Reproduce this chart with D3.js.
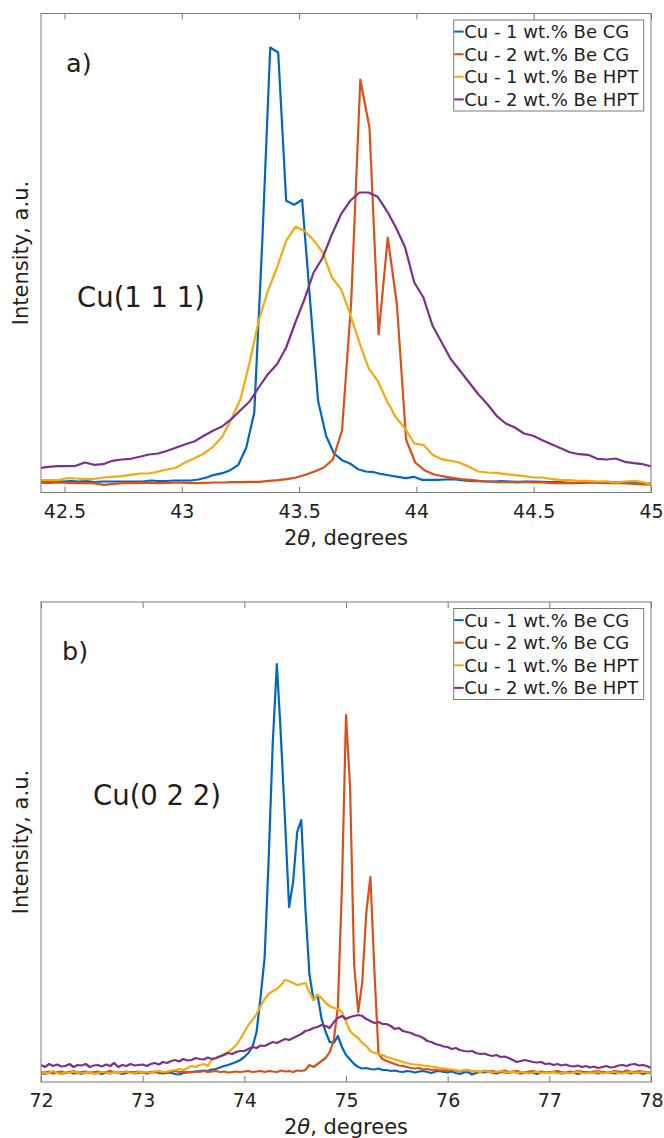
<!DOCTYPE html>
<html>
<head>
<meta charset="utf-8">
<script src="https://cdn.jsdelivr.net/npm/d3@7"></script>
<style>
  body { margin: 0; background: #fff; }
  svg { display: block; font-family: "DejaVu Sans", sans-serif; }
</style>
</head>
<body>
<div id="chart"></div>
<script>
// XRD patterns, Cu(111) and Cu(022) reflections

const seriesNames = ['Cu - 1 wt.% Be CG', 'Cu - 2 wt.% Be CG', 'Cu - 1 wt.% Be HPT', 'Cu - 2 wt.% Be HPT'];
const seriesColors = ['#0066BF', '#D9501A', '#F4A90F', '#7E2F8E'];

// panel a) - scan start and step (degrees) of each pattern
const aStart = [42.391, 42.396, 42.392, 42.392];
const aStep = [0.034, 0.039, 0.039, 0.039];
const aTicks = [42.5, 43, 43.5, 44, 44.5, 45];

const aCG1 = [11, 11.5, 11, 11, 11.5, 11, 11.5, 10.5, 11, 11, 11, 11, 11, 11, 12, 11.5, 11.5, 12, 12, 12,
  13, 15, 17.7, 19.3, 22.3, 27.7, 45, 80, 250, 445,
  440, 291.7, 287.7, 292.7, 191.7, 91.7, 56.7, 39, 32.3, 29,
  23.3, 21, 20.3, 18.3, 17, 15.7, 14.3, 15.7, 12.7, 12.7,
  12.7, 13, 13.3, 12.3, 11.7, 11.3, 11, 11, 11.3, 11,
  10.7, 11, 11, 10.7, 10.3, 10.7, 10, 9.3, 9.7, 10,
  10.3, 10.7, 10.3, 10, 10.7, 9.7, 9, 9];
const aCG2 = [9.7, 9.7, 10, 9.7, 9.3, 9.7, 9, 7.7, 8.7, 9.3, 9.3, 9.7, 9.7, 9.3, 9.7, 10, 9.7, 9.3, 9.7, 10,
  10, 10.3, 10.3, 10.7, 10.7, 11.7, 12.3, 13.3, 15, 17.7,
  21, 25, 33, 62, 190, 413, 365, 158, 255, 188,
  53, 30, 22.3, 18.3, 16.3, 14.7, 13.3, 12.7, 11.7, 11,
  10.3, 10.7, 10, 10.7, 10, 10, 9.3, 9.7, 9.3, 10,
  10, 9.7, 9.3, 9.7, 9, 8.7, 8, 7.7];
const aHPT1 = [12.3, 12.3, 12.3, 14.3, 14, 13.3, 13.7, 15, 15.7, 16.3,
  17.7, 19, 19, 21, 23, 25, 30.3, 34.3, 39, 45.7,
  55.7, 73.3, 93.3, 130, 171.7, 201.7, 225, 251.7, 265.7, 261.7,
  252.3, 240, 215, 203.3, 178, 150, 124.3, 111.7, 91.7, 75,
  64, 49, 47.7, 37.7, 33.3, 31.7, 29.7, 25.7, 21, 20,
  19.7, 18.3, 17.3, 16.3, 15, 15, 13.7, 12.7, 12.3, 11.7,
  11.7, 11, 11, 10, 11, 11.7, 10.3, 7.7];
const aHPT2 = [24.3, 25.7, 26.3, 26.3, 26.7, 30, 27.7, 28.3, 31.7, 33,
  33.7, 35.7, 38, 39, 41.7, 45, 48.3, 51.3, 56.7, 61.7,
  66, 73.3, 82.3, 91, 105, 118.3, 128.3, 145, 170, 193.3,
  220, 235, 258.3, 278.3, 291.7, 300, 300, 295.7, 281.7, 265,
  245, 210, 195, 166.7, 150, 133.3, 121.7, 110, 98.3, 88.3,
  76.7, 69, 65, 59, 56.7, 52.3, 48.3, 44.3, 40.3, 38.3,
  37.7, 33.7, 33, 34, 30.7, 29.3, 28.3, 25.7];

// panel b) - all four patterns share one scan grid
const bStart = [72, 72, 72, 72];
const bStep = [0.04, 0.04, 0.04, 0.04];
const bTicks = [72, 73, 74, 75, 76, 77, 78];

const bCG1 = [9, 8, 10, 8.5, 9.5, 8, 9, 10, 8.5, 9, 8, 9.5, 10, 8.5, 9, 8, 9.5, 8.5, 10, 9, 8, 9, 10, 8.5, 9,
  9.5, 8.5, 9, 10, 9, 8.5, 9.5, 9, 8, 7.5, 9, 9.5, 10, 10.5, 11, 11.5, 11, 12.5, 13, 14.5, 16, 17, 18.5, 20, 22,
  25, 29, 35, 50, 85, 125, 225, 340, 418, 345, 262, 175, 200, 250, 262, 175, 108, 82, 87, 63, 50, 40, 39, 46, 35,
  27, 22.5, 18, 15, 13.5, 14, 13, 12.5, 13.5, 12, 12, 11, 11.5, 10.5, 10, 11, 10.5, 9.5, 10.5, 11, 10, 9, 10.5, 11, 10,
  9.5, 10.5, 9, 8, 9.5, 10, 7.5, 9, 10, 9.5, 10.5, 9, 8.5, 10, 9.5, 9, 10.5, 9, 8.5, 9.5, 10, 9, 8, 9.5, 10,
  9, 10, 9.5, 8.5, 9, 10, 9.5, 8, 9, 10, 9.5, 9, 8.5, 10, 9, 9.5, 8.5, 9, 10, 9.5, 8.5, 9, 9.5, 8, 9, 9.5];
const bCG2 = [10, 9.5, 10.5, 9, 10, 10.5, 9.5, 10, 11, 9.5, 10, 10.5, 9, 10, 10.5, 9.5, 10, 11, 10, 9.5, 10, 10.5, 9.5, 10, 10.5,
  10, 9.5, 10, 10.5, 10, 9.5, 10, 10.5, 11, 10, 10.5, 10, 9.5, 10.5, 10, 11, 10, 10.5, 11, 10, 10.5, 9.5, 10, 10.5, 10,
  10.5, 11, 10, 10.5, 11, 10, 11, 10.5, 10, 11.5, 10.5, 11, 10, 11.5, 11, 12, 17, 15, 18, 21, 24, 30, 42, 75, 195,
  367, 295, 117, 70, 100, 170, 205, 110, 28, 23, 21, 19.5, 18, 16.5, 16, 15, 14, 13.5, 14, 12.5, 13, 12, 12.5, 11.5, 12,
  11, 12, 11.5, 10.5, 11, 12, 10.5, 11, 10, 11.5, 10.5, 11, 10, 10.5, 11.5, 10, 10.5, 11, 10, 9.5, 10.5, 11, 10, 10.5, 9.5,
  10, 10.5, 11, 10, 9.5, 10.5, 10, 11, 10.5, 9.5, 10, 10.5, 11, 10, 9.5, 10, 11, 10.5, 10, 11.5, 10.5, 10, 11, 10.5, 10, 9.5];
const bHPT1 = [10, 8.5, 9.5, 11, 9, 8, 10, 9, 10.5, 9, 8.5, 9.5, 10, 8, 9, 10, 9.5, 8.5, 10, 9, 9.5, 10.5, 9, 8.5, 10,
  9.5, 10, 9, 10.5, 11, 10, 10.5, 11.5, 12, 13, 12, 14, 16, 15, 17, 18, 16, 22, 24, 26, 28, 30, 33, 37, 43,
  50, 57, 62, 68, 76, 83, 88, 91, 93, 97, 102, 101, 99, 97, 98, 99, 90, 82, 87, 84, 79, 76, 74, 73, 70,
  60, 51, 47, 44, 39, 36, 31, 29, 28, 27, 25, 24, 22.5, 21.5, 20, 19, 18, 17.5, 17, 16.5, 16, 15.5, 15, 14, 13.5,
  13, 12.5, 12, 11, 12, 11.5, 10.5, 11, 10, 11, 10.5, 9.5, 10, 11, 10, 9.5, 10.5, 9, 10, 9.5, 8.5, 9.5, 10, 9, 9.5,
  9, 10, 8.5, 9, 9.5, 8.5, 9.5, 10, 9, 8.5, 9.5, 9, 10, 8.5, 9, 9.5, 10, 9, 8.5, 9.5, 10, 9, 9.5, 10, 9.5, 10];
const bHPT2 = [17, 15, 18, 16, 17.5, 15.5, 16, 18, 15, 17, 16.5, 18, 15, 16.5, 17, 15.5, 17.5, 16, 19, 15, 17, 16, 18, 16.5, 17,
  17.5, 16, 18, 19, 17.5, 20, 19, 21, 22, 20.5, 23, 21.5, 22, 24, 23, 22.5, 24.5, 23, 24, 25.5, 27, 29, 28, 30, 31,
  31, 33, 35, 34, 36.5, 36, 38, 40, 39, 41, 43, 42, 44, 46, 48, 51, 52, 54, 55, 57, 56, 54, 60, 64, 66,
  63, 65, 66, 67, 66, 63, 61, 59, 60, 58, 58, 56, 53, 54, 51, 50, 49, 47, 46, 44, 41, 40, 38, 37, 35.5,
  35, 33, 34, 32, 31, 30.5, 31, 29, 28, 28.5, 27, 26, 27, 25, 25.5, 24, 22, 20, 21, 22, 21, 20, 19.5, 20, 18,
  18.5, 17, 18, 16.5, 17.5, 16, 15.5, 16.5, 15, 16, 14.5, 15.5, 14, 15, 16, 14.5, 15, 16.5, 17, 16, 17.5, 18, 16.5, 17, 16, 14];

const W = 664, H = 1138;
const left = 41, right = 651;
const textColor = '#1e1e1e';
const frameColor = '#7a7a7a';

const panels = [
  { id: 'a', tag: 'a)', peak: 'Cu(1 1 1)', top: 13.5, bottom: 492.5, yMax: 479,
    xDomain: [42.4, 45], ticks: aTicks, start: aStart, step: aStep,
    series: [aCG1, aCG2, aHPT1, aHPT2],
    tagPos: [66, 72], peakPos: [77, 307] },
  { id: 'b', tag: 'b)', peak: 'Cu(0 2 2)', top: 602, bottom: 1082, yMax: 480,
    xDomain: [72, 78], ticks: bTicks, start: bStart, step: bStep,
    series: [bCG1, bCG2, bHPT1, bHPT2],
    tagPos: [62, 660], peakPos: [93, 805] }
];

const svg = d3.select('#chart').append('svg')
  .attr('width', W)
  .attr('height', H);

panels.forEach(p => {
  const x = d3.scaleLinear().domain(p.xDomain).range([left, right]);
  const y = d3.scaleLinear().domain([0, p.yMax]).range([p.bottom, p.top]);
  const g = svg.append('g').attr('class', 'panel-' + p.id);

  g.append('clipPath').attr('id', 'clip-' + p.id)
    .append('rect')
    .attr('x', left).attr('y', p.top)
    .attr('width', right - left).attr('height', p.bottom - p.top);

  const line = d3.line()
    .x(d => x(d[0]))
    .y(d => y(d[1]));

  // patterns, drawn in legend order so the last one sits on top
  const plot = g.append('g').attr('clip-path', `url(#clip-${p.id})`);
  p.series.forEach((vals, i) => {
    const pts = vals.map((v, k) => [p.start[i] + k * p.step[i], v]);
    plot.append('path')
      .datum(pts)
      .attr('d', line)
      .attr('fill', 'none')
      .attr('stroke', seriesColors[i])
      .attr('stroke-width', 2.2)
      .attr('stroke-linejoin', 'round');
  });

  // box
  g.append('rect')
    .attr('x', left).attr('y', p.top)
    .attr('width', right - left).attr('height', p.bottom - p.top)
    .attr('fill', 'none')
    .attr('stroke', frameColor)
    .attr('stroke-width', 1);

  // bottom axis, ticks inward
  const bottomAxis = g.append('g')
    .attr('transform', `translate(0,${p.bottom})`)
    .call(d3.axisBottom(x).tickValues(p.ticks).tickSize(-6).tickPadding(12).tickFormat(d => String(d)));
  bottomAxis.select('.domain').remove();
  bottomAxis.selectAll('line').attr('stroke', frameColor);
  bottomAxis.selectAll('text')
    .attr('fill', textColor)
    .attr('font-family', '"DejaVu Sans", sans-serif')
    .attr('font-size', 19);
  bottomAxis.attr('font-family', null).attr('font-size', null);

  // top ticks, no labels
  const topAxis = g.append('g')
    .attr('transform', `translate(0,${p.top})`)
    .call(d3.axisTop(x).tickValues(p.ticks).tickSize(-6).tickFormat(''));
  topAxis.select('.domain').remove();
  topAxis.selectAll('line').attr('stroke', frameColor);

  // axis titles
  const xl = g.append('text')
    .attr('x', (left + right) / 2)
    .attr('y', p.bottom + 52)
    .attr('text-anchor', 'middle')
    .attr('font-size', 21)
    .attr('fill', textColor);
  xl.append('tspan').text('2');
  xl.append('tspan').attr('font-style', 'italic').text('θ');
  xl.append('tspan').text(', degrees');

  g.append('text')
    .attr('transform', `translate(28,${(p.top + p.bottom) / 2}) rotate(-90)`)
    .attr('text-anchor', 'middle')
    .attr('font-size', 21)
    .attr('fill', textColor)
    .text('Intensity, a.u.');

  // panel tag and reflection label
  g.append('text')
    .attr('x', p.tagPos[0]).attr('y', p.tagPos[1])
    .attr('font-size', 25.5)
    .attr('fill', textColor)
    .text(p.tag);
  g.append('text')
    .attr('x', p.peakPos[0]).attr('y', p.peakPos[1])
    .attr('font-size', 27.5)
    .attr('fill', textColor)
    .text(p.peak);

  // legend
  const lg = g.append('g').attr('transform', `translate(453.7,${p.top + 6.5})`);
  lg.append('rect')
    .attr('width', 190).attr('height', 91)
    .attr('fill', '#fff')
    .attr('stroke', frameColor)
    .attr('stroke-width', 1);
  seriesNames.forEach((name, i) => {
    const cy = 11.6 + i * 22.6;
    lg.append('line')
      .attr('x1', 0.5).attr('x2', 10)
      .attr('y1', cy).attr('y2', cy)
      .attr('stroke', seriesColors[i])
      .attr('stroke-width', 2);
    lg.append('text')
      .attr('x', 10.5).attr('y', cy)
      .attr('dy', '0.36em')
      .attr('font-size', 18)
      .attr('fill', textColor)
      .text(name);
  });
});
</script>
</body>
</html>
